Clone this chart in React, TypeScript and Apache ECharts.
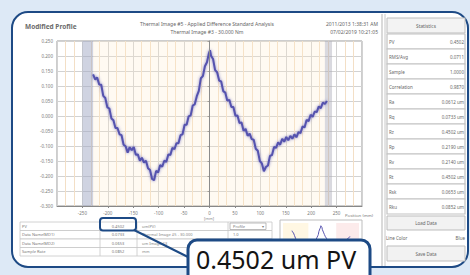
import React, { useEffect, useRef } from "react";
import * as echarts from "echarts";

// Profile data (position in mm, height in um)
const profileX = [
  -229, -225, -221, -217, -213, -209, -205, -201, -197, -193, -189, -185, -181, -177, -173, -169, -165, -161,
  -157, -153, -149, -145, -141, -137, -133, -129, -125, -121, -117, -113, -109, -105, -101, -97, -93, -89, -85,
  -81, -77, -73, -69, -65, -61, -57, -53, -49, -45, -41, -37, -33, -29, -25, -21, -17, -13, -9, -5, -1, 1, 3, 7,
  11, 15, 19, 23, 27, 31, 35, 39, 43, 47, 51, 55, 59, 63, 67, 71, 75, 79, 83, 87, 91, 95, 99, 103, 107, 111, 115,
  119, 123, 127, 131, 135, 139, 143, 147, 151, 155, 159, 163, 167, 171, 175, 179, 183, 187, 191, 195, 199, 203,
  207, 211, 215, 219, 223, 227, 231,
];
const profileY = [
  0.139, 0.122, 0.128, 0.105, 0.104, 0.067, 0.06, 0.029, 0.025, -0.008, -0.014, -0.04, -0.04, -0.061, -0.064,
  -0.096, -0.101, -0.122, -0.104, -0.114, -0.103, -0.129, -0.128, -0.149, -0.139, -0.155, -0.149, -0.174, -0.18,
  -0.21, -0.214, -0.183, -0.188, -0.163, -0.169, -0.149, -0.153, -0.128, -0.13, -0.106, -0.111, -0.091, -0.091,
  -0.064, -0.061, -0.029, -0.029, -0.001, 0.002, 0.035, 0.039, 0.066, 0.084, 0.126, 0.133, 0.166, 0.179, 0.21,
  0.219, 0.201, 0.19, 0.153, 0.146, 0.118, 0.115, 0.083, 0.078, 0.051, 0.054, 0.03, 0.03, 0.001, 0.002, -0.023,
  -0.022, -0.049, -0.043, -0.066, -0.059, -0.077, -0.079, -0.109, -0.116, -0.15, -0.158, -0.184, -0.17, -0.165,
  -0.133, -0.13, -0.103, -0.106, -0.088, -0.096, -0.076, -0.086, -0.07, -0.081, -0.066, -0.076, -0.061, -0.071,
  -0.054, -0.057, -0.035, -0.038, -0.013, -0.017, 0.004, -0.003, 0.015, 0.013, 0.032, 0.026, 0.045, 0.04, 0.05,
];

// Aperture bands (mm)
const leftBand = [-250, -229];
const rightBand = [227, 241];

const titleText = "Modified Profile";
const headerLines = [
  "Thermal Image #5 - Applied Difference Standard Analysis",
  "Thermal Image #3 - 30.000 Nm",
];
const dateLines = ["2011/2013 1:38:31 AM", "07/02/2019 10:21:05"];
const xAxisName = "Position (mm)";

const statHeader = "Statistics";
const statLabels = ["PV", "RMS/Avg", "Sample", "Correlation", "Ra", "Rq", "Rz", "Rp", "Rv", "Rt", "Rsk", "Rku"];
const statValues = ["0.4502", "0.0711", "1.0000", "0.9870", "0.0612 um", "0.0733 um", "0.4502 um", "0.2190 um", "0.2140 um", "0.4502 um", "0.0653 um", "0.0852 um"];
const buttonLabels = ["Load Data", "Save Data"];
const colorRow = ["Line Color", "Blue"];

const tableLabels = ["PV", "Data Name(MD1)", "Data Name(MD2)", "Sample Rate"];
const tableValues = ["0.4502", "0.0733", "0.0653", "0.0852"];
const tableUnits = ["um(PV)", "Thermal Image #5 - 30.000", "um Image #3", "mm"];
const tableExtra = ["Profile", "1.0", "", ""];

const calloutText = "0.4502 um PV";

const NAVY = "#1d4a85";
const FONT = "'Noto Sans', 'DejaVu Sans', sans-serif";

export default function App() {
  const ref = useRef<HTMLDivElement>(null);

  useEffect(() => {
    if (!ref.current) return;
    const chart = echarts.init(ref.current, undefined, { renderer: "svg" });
    const data = profileX.map((x, i) => [x, profileY[i]]);

    const small = (x: number, y: number, text: string, align = "left", size = 4.5, fill = "#777") => ({
      type: "text",
      x,
      y,
      z: 5,
      style: { text, fill, fontSize: size, fontFamily: FONT, align, verticalAlign: "middle" },
    });

    const graphics: any[] = [];
    // frame
    graphics.push({
      type: "rect",
      z: -10,
      shape: { x: 12, y: 12, width: 456, height: 255, r: 16 },
      style: { fill: "#ffffff", stroke: NAVY, lineWidth: 2 },
    });
    graphics.push({
      type: "text",
      x: 25,
      y: 26,
      z: 5,
      style: { text: titleText, fill: "#6b6b6b", fontSize: 6.5, fontWeight: "bold", fontFamily: FONT, verticalAlign: "middle" },
    });
    headerLines.forEach((t, i) => graphics.push(small(207, 24 + i * 8, t, "center", 5, "#666")));
    dateLines.forEach((t, i) => graphics.push(small(378, 24 + i * 8, t, "right", 5, "#666")));
    graphics.push(small(373, 215, xAxisName, "right", 4.3, "#777"));
    graphics.push(small(209, 218, "[mm]", "center", 4, "#888"));

    // right statistics panel
    graphics.push({ type: "line", z: 1, shape: { x1: 382, y1: 14, x2: 382, y2: 266 }, style: { stroke: "#b5b5b5", lineWidth: 1 } });
    graphics.push({ type: "line", z: 1, shape: { x1: 385, y1: 14, x2: 385, y2: 266 }, style: { stroke: "#c8c8c8", lineWidth: 1 } });
    graphics.push({ type: "rect", z: 1, shape: { x: 387, y: 18, width: 78, height: 15 }, style: { fill: "#f3f3f3", stroke: "#bdbdbd", lineWidth: 1 } });
    graphics.push(small(426, 25.5, statHeader, "center", 4.8, "#666"));
    statLabels.forEach((lab, i) => {
      const y0 = 34 + i * 15;
      graphics.push({ type: "rect", z: 1, shape: { x: 387, y: y0, width: 78, height: 15 }, style: { fill: "#ffffff", stroke: "#c2c2c2", lineWidth: 1.2 } });
      graphics.push(small(389, y0 + 7.5, lab, "left", 4.5, "#666"));
      graphics.push(small(464, y0 + 7.5, statValues[i], "right", 4.5, "#666"));
    });
    graphics.push({ type: "rect", z: 1, shape: { x: 387, y: 216, width: 78, height: 14 }, style: { fill: "#f2f2f2", stroke: "#bdbdbd", lineWidth: 1 } });
    graphics.push(small(426, 223, buttonLabels[0], "center", 4.5, "#666"));
    graphics.push(small(386, 238, colorRow[0], "left", 4.5, "#666"));
    graphics.push(small(465, 238, colorRow[1], "right", 4.5, "#666"));
    graphics.push({ type: "rect", z: 1, shape: { x: 387, y: 246, width: 78, height: 15 }, style: { fill: "#f2f2f2", stroke: "#bdbdbd", lineWidth: 1 } });
    graphics.push(small(426, 253.5, buttonLabels[1], "center", 4.5, "#666"));

    // left data table
    const tTop = 222;
    const rowH = 8.5;
    tableLabels.forEach((lab, i) => {
      const y0 = tTop + i * rowH;
      graphics.push({ type: "rect", z: 1, shape: { x: 20, y: y0, width: 252, height: rowH }, style: { fill: "#ffffff", stroke: "#c6c6c6", lineWidth: 0.8 } });
      graphics.push(small(22, y0 + rowH / 2, lab, "left", 4, "#777"));
      graphics.push(small(118, y0 + rowH / 2, tableValues[i], "center", 4, "#777"));
      graphics.push(small(142, y0 + rowH / 2, tableUnits[i], "left", 4, "#888"));
      if (tableExtra[i]) graphics.push(small(233, y0 + rowH / 2, tableExtra[i], "left", 4, "#777"));
    });
    [100, 137, 228].forEach((x) =>
      graphics.push({ type: "line", z: 1, shape: { x1: x, y1: tTop, x2: x, y2: tTop + 4 * rowH }, style: { stroke: "#c6c6c6", lineWidth: 0.8 } })
    );
    graphics.push({ type: "rect", z: 2, shape: { x: 230, y: 223, width: 36, height: 6.5 }, style: { fill: "#ffffff", stroke: "#aaaaaa", lineWidth: 0.8 } });
    graphics.push(small(264, 226.2, "▾", "right", 4, "#777"));

    // mini chart frame
    graphics.push({ type: "rect", z: 1, shape: { x: 280, y: 220, width: 82, height: 44 }, style: { fill: "#ffffff", stroke: "#bdbdbd", lineWidth: 1 } });

    // highlight + callout
    graphics.push({ type: "rect", z: 50, shape: { x: 100, y: 218, width: 36, height: 12.5, r: 3 }, style: { fill: "none", stroke: NAVY, lineWidth: 2 } });
    graphics.push({ type: "line", z: 50, shape: { x1: 134, y1: 230, x2: 190, y2: 258 }, style: { stroke: NAVY, lineWidth: 2 } });
    graphics.push({ type: "rect", z: 60, shape: { x: 188, y: 240, width: 182, height: 45, r: 9 }, style: { fill: "#ffffff", stroke: NAVY, lineWidth: 3 } });
    graphics.push({
      type: "text",
      x: 196,
      y: 258.5,
      z: 61,
      style: { text: calloutText, fill: "#141414", fontSize: 25, fontFamily: FONT, verticalAlign: "middle" },
    });

    chart.setOption({
      animation: false,
      backgroundColor: "#dde9f6",
      graphic: { elements: graphics },
      grid: [
        { left: 57, top: 41, width: 305, height: 165, show: true, backgroundColor: "#ffffff", borderColor: "#9a9a9a", borderWidth: 1, z: 0 },
        { left: 283, top: 223, width: 76, height: 38, show: false },
      ],
      xAxis: [
        {
          type: "value",
          gridIndex: 0,
          min: -300,
          max: 300,
          interval: 50,
          axisLine: { show: true, onZero: false, lineStyle: { color: "#888" } },
          axisTick: { show: true, length: 2, lineStyle: { color: "#888" } },
          axisLabel: { fontSize: 4.5, color: "#777", margin: 4, showMinLabel: false, showMaxLabel: false, fontFamily: FONT },
          splitLine: { show: true, lineStyle: { color: "#d2d2d2", width: 1 } },
          minorTick: { show: false, splitNumber: 3 },
          minorSplitLine: { show: true, lineStyle: { color: "#f3dfc6", width: 1 } },
        },
        {
          type: "value",
          gridIndex: 1,
          min: -300,
          max: 300,
          interval: 50,
          axisLine: { show: false },
          axisTick: { show: false },
          axisLabel: { show: false },
          splitLine: { show: true, lineStyle: { color: "#f1e3d2", width: 0.6 } },
        },
      ],
      yAxis: [
        {
          type: "value",
          gridIndex: 0,
          min: -0.3,
          max: 0.25,
          interval: 0.05,
          axisLine: { show: true, lineStyle: { color: "#888" } },
          axisTick: { show: true, length: 2, lineStyle: { color: "#888" } },
          axisLabel: { fontSize: 4.5, color: "#777", margin: 4, fontFamily: FONT, formatter: (v: number) => v.toFixed(3) },
          splitLine: { show: true, lineStyle: { color: "#d2d2d2", width: 1 } },
        },
        {
          type: "value",
          gridIndex: 1,
          min: -0.3,
          max: 0.25,
          interval: 0.05,
          axisLine: { show: false },
          axisTick: { show: false },
          axisLabel: { show: false },
          splitLine: { show: false },
        },
      ],
      series: [
        {
          type: "line",
          xAxisIndex: 0,
          yAxisIndex: 0,
          data,
          showSymbol: false,
          symbol: "none",
          silent: true,
          lineStyle: { color: "#5552ae", width: 2, shadowBlur: 3, shadowColor: "rgba(80,80,180,0.7)" },
          markArea: {
            silent: true,
            data: [
              [{ xAxis: leftBand[1], itemStyle: { color: "rgba(255,236,205,0.25)" } }, { xAxis: rightBand[0] }],
              [{ xAxis: leftBand[0], itemStyle: { color: "rgba(160,168,195,0.5)" } }, { xAxis: leftBand[1] }],
              [{ xAxis: rightBand[0], itemStyle: { color: "rgba(170,170,185,0.45)" } }, { xAxis: rightBand[1] }],
            ],
          },
          markLine: {
            silent: true,
            symbol: "none",
            label: { show: false },
            lineStyle: { color: "#8c8c8c", width: 1, type: "solid" },
            data: [{ xAxis: 0 }],
          },
        },
        {
          type: "line",
          xAxisIndex: 1,
          yAxisIndex: 1,
          data,
          showSymbol: false,
          symbol: "none",
          silent: true,
          lineStyle: { color: "#5a57b2", width: 1 },
          markArea: {
            silent: true,
            data: [
              [{ xAxis: -300, itemStyle: { color: "rgba(255,240,200,0.5)" } }, { xAxis: -100 }],
              [{ xAxis: 120, itemStyle: { color: "rgba(250,215,215,0.5)" } }, { xAxis: 300 }],
            ],
          },
        },
      ],
    });
    return () => chart.dispose();
  }, []);

  return <div ref={ref} style={{ position: "fixed", left: 0, top: 0, width: 470, height: 275 }} />;
}
